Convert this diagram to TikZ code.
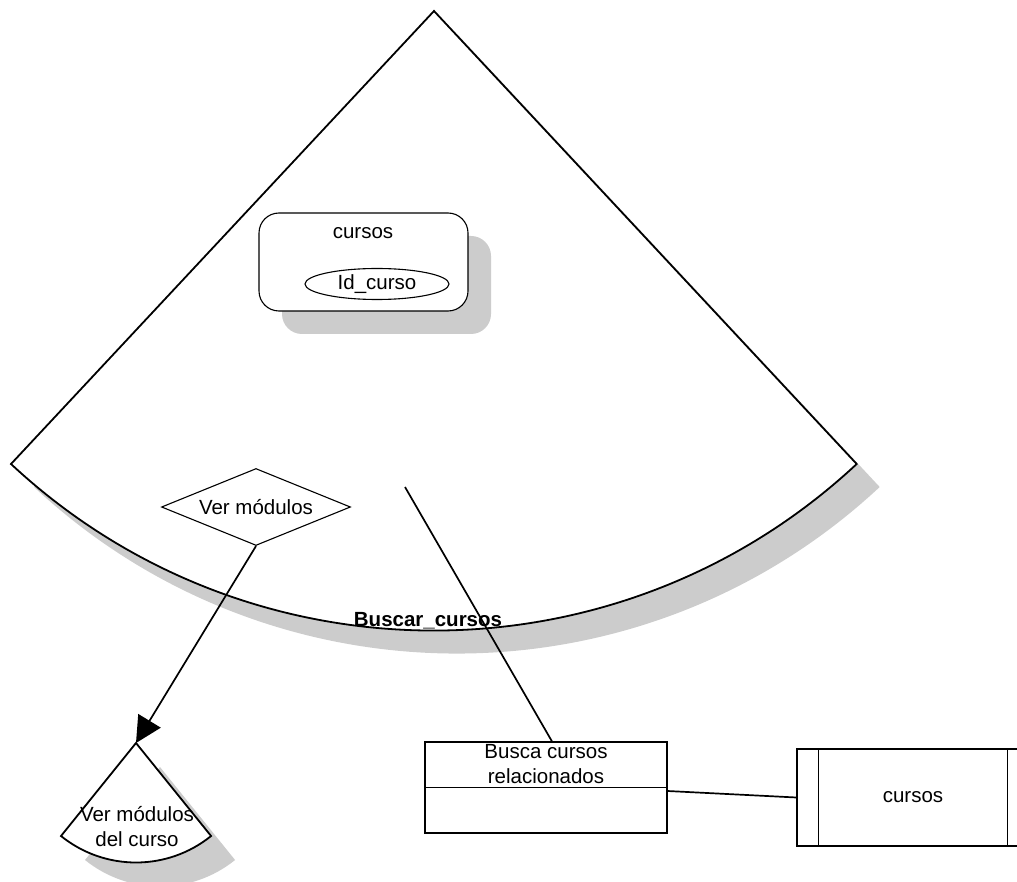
\documentclass[tikz,border=0pt]{standalone}
\usepackage{fontspec}
\setmainfont{Liberation Sans}
\usetikzlibrary{shapes.geometric,arrows.meta,shadows}
\definecolor{shadowgray}{RGB}{204,204,204}
\begin{document}
\begin{tikzpicture}[x=1pt,y=-1pt,
  every node/.style={font=\fontsize{20.5}{25}\selectfont},
  conestyle/.style={draw=black,line width=1.8pt,fill=white,line join=miter},
  boxline/.style={draw=black,line width=1.1pt},
  link/.style={draw=black,line width=1.7pt},
  shade23/.style={general shadow={fill=shadowgray,shadow xshift=23pt,shadow yshift=-23pt}},
  shade24/.style={general shadow={fill=shadowgray,shadow xshift=24pt,shadow yshift=-24pt}}]
\useasboundingbox (0,0) rectangle (1017,882);

% large cone (process Buscar_cursos)
\coordinate (bigapex) at (434,11);
\path[conestyle,shade23] (bigapex) -- ++(-423,453)
  arc[start angle=227,end angle=313,radius=620pt] -- cycle;
\coordinate (bigcore) at (405,487);
\node[font=\fontsize{20.5}{25}\selectfont\bfseries] (title) at (428,621) {Buscar\_cursos};

% entity cursos with its key
\node[boxline,rounded corners=20pt,fill=white,shade23,minimum width=209pt,
  minimum height=98pt,inner sep=0] (entity) at (363.5,262) {};
\node (entityname) at (363,233) {cursos};
\node[boxline,ellipse,minimum width=144pt,minimum height=31pt,inner sep=0,
  fill=white] (idcurso) at (377,284) {Id\_curso};

% decision
\node[boxline,diamond,shape aspect=2.45,minimum width=189pt,minimum height=77pt,
  inner sep=0,fill=white] (vermod) at (256,507) {Ver módulos};

% small cone
\coordinate (smallapex) at (136,743);
\path[conestyle,shade24] (smallapex) -- ++(-75,93)
  arc[start angle=231.1,end angle=308.9,radius=119.5pt] -- cycle;
\node[align=center] (vermodcurso) at (137,827) {Ver módulos\\del curso};

\draw[link,-{Triangle[length=26pt,width=26pt]}] (vermod.south) -- (smallapex);

% activity box
\node[boxline,minimum width=242pt,minimum height=91pt,inner sep=0] (busca) at (546,787.5) {};
\draw[boxline] (busca.west) -- (busca.east);
\node[align=center] (buscatext) at (546,764.5) {Busca cursos\\relacionados};

% data store
\node[boxline,minimum width=232pt,minimum height=97pt,inner sep=0] (store) at (913,797.5) {cursos};
\draw[boxline] ([xshift=22pt]store.north west) -- ([xshift=22pt]store.south west);
\draw[boxline] ([xshift=-22pt]store.north east) -- ([xshift=-22pt]store.south east);

% connectors
\draw[link] (bigcore) -- ([xshift=6pt]busca.north);
\draw[link] ([yshift=-3.5pt]busca.east) -- (store.west);
\end{tikzpicture}
\end{document}
